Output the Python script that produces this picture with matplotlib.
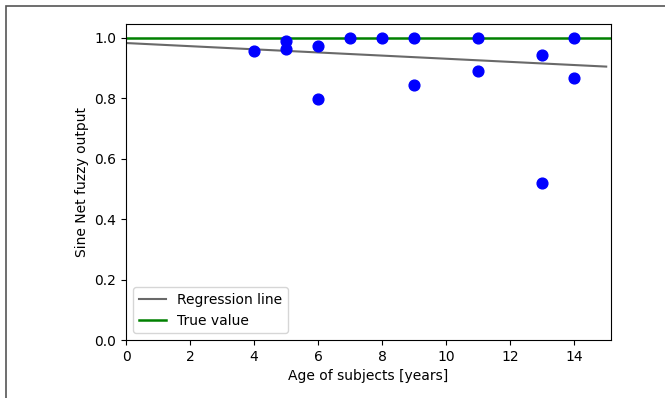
import numpy as np
import matplotlib
matplotlib.use('Agg')
import matplotlib.pyplot as plt
from matplotlib.patches import Rectangle

# ages and network outputs
age = [4, 5, 5, 6, 6, 7, 8, 9, 9, 11, 11, 13, 13, 14, 14]
output = [0.958, 0.991, 0.963, 0.973, 0.799, 1.0, 1.0, 1.0, 0.843,
          1.0, 0.891, 0.944, 0.521, 1.0, 0.866]
reg_x = [0, 15]
reg_y = [0.983, 0.905]
true_x = [0, 15.2]
true_y = [1.0, 1.0]

fig = plt.figure(figsize=(6.65, 3.98), dpi=100)
ax = fig.add_axes([0.1895, 0.1457, 0.7293, 0.794])

# grey frame around the picture
fig.patches.append(Rectangle((6 / 665, -0.1), 1.1, 1.1 - 6 / 398,
                             transform=fig.transFigure, fill=False,
                             edgecolor='#555555', linewidth=1.2))

ax.plot(reg_x, reg_y, color='dimgray', linewidth=1.5, label='Regression line')
ax.plot(true_x, true_y, color='green', linewidth=1.8, label='True value')
ax.scatter(age, output, color='blue', s=60, zorder=3)

ax.set_xlim(0, 15.15)
ax.set_ylim(0, 1.046)
ax.set_xticks(np.arange(0, 15, 2))
ax.set_yticks(np.arange(0, 1.01, 0.2))
ax.set_xlabel('Age of subjects [years]')
ax.set_ylabel('Sine Net fuzzy output')
ax.legend(loc='lower left')

plt.savefig('out.png', dpi=100)
